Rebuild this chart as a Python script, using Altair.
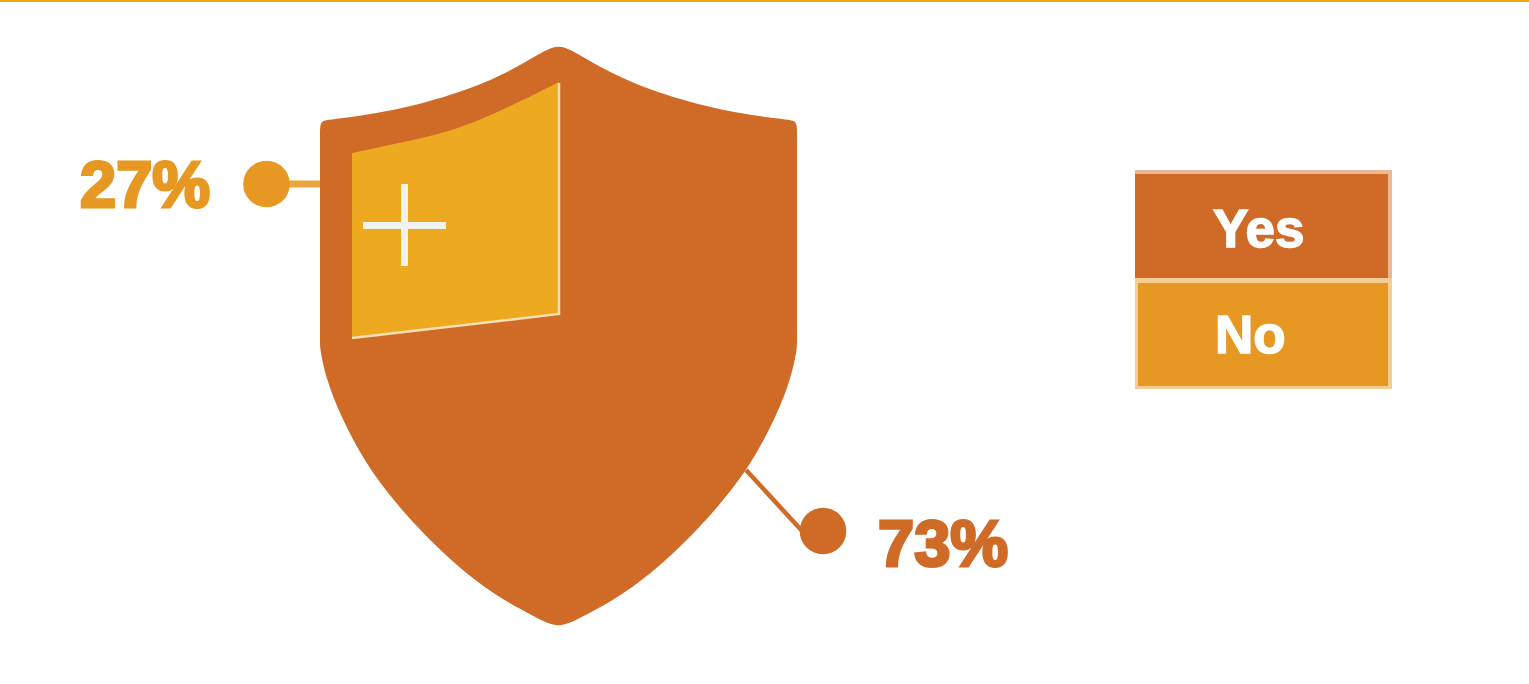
import altair as alt
import pandas as pd

CANVAS_W, CANVAS_H = 1529, 684

# Survey result
labels = ["Yes", "No"]
shares = [73, 27]

# Palette
ORANGE = "#d06a27"
AMBER = "#e69823"
GOLD = "#eda920"
RULE = "#eba90a"

# Shield: control points of the upper outline down to the shoulder line,
# then those of the curved lower outline (drawn as B-splines)
shoulder_y = 340
upper_x = [320, 320, 321, 335, 400, 470, 520, 545, 558.5, 572, 597, 647, 717, 782, 796, 797, 797]
upper_y = [136, 128, 120, 119.5, 110, 90, 66, 50, 45, 50, 66, 90, 110, 119.5, 120, 128, 136]
lower_x = [320, 320, 326, 340, 365, 398, 450, 497, 537, 558.5, 580, 620, 667, 719, 752, 777, 791, 797, 797]
lower_y = [340, 350, 378, 415, 463, 507, 561, 597, 618, 629, 618, 597, 561, 507, 463, 415, 378, 350, 340]

# Highlighted quarter of the shield
panel_x = [352, 400, 448, 482, 515, 559]
panel_top = [153, 143, 132, 119, 104, 82]
panel_bottom = [338, 332.5, 326.5, 323, 319, 314]

# Pale edge along the panel's right and lower sides
edge_x = [559, 559, 352]
edge_y = [83, 314, 338]

# Leader lines and their end dots
leader_no_x, leader_no_y = [267, 322], [184, 184]
leader_yes_x, leader_yes_y = [746, 804], [470, 533]
dots_x, dots_y = [266.5, 823], [184, 531]

# Percent labels
pct_x, pct_y = [80, 878], [207, 566]

# Legend boxes: outer frame and inner fill
frame_x = [1135, 1135]
frame_x2 = [1392, 1392]
frame_y = [170, 278]
frame_y2 = [278, 389]
fill_x = [1135, 1138]
fill_x2 = [1388, 1388]
fill_y = [174, 283]
fill_y2 = [278, 386]
legend_text_x = [1213, 1215]
legend_text_y = [247, 353]

x_scale = alt.Scale(domain=[0, CANVAS_W], range=[0, CANVAS_W])
y_scale = alt.Scale(domain=[0, CANVAS_H], range=[0, CANVAS_H])
X = alt.X("x:Q", scale=x_scale, axis=None)
Y = alt.Y("y:Q", scale=y_scale, axis=None)


def band(xs, ys, y2s, color):
    data = pd.DataFrame({"x": xs, "y": ys, "y2": y2s})
    return alt.Chart(data).mark_area(color=color, interpolate="basis").encode(X, Y, y2="y2:Q")


def box(xs, x2s, ys, y2s, colors):
    data = pd.DataFrame({"x": xs, "x2": x2s, "y": ys, "y2": y2s, "c": colors})
    return alt.Chart(data).mark_rect().encode(
        X, Y, x2="x2:Q", y2="y2:Q", color=alt.Color("c:N", scale=None)
    )


def path(xs, ys, color, width):
    data = pd.DataFrame({"x": xs, "y": ys, "o": range(len(xs))})
    return alt.Chart(data).mark_line(color=color, strokeWidth=width).encode(X, Y, order="o:Q")


top_rule = box([0], [CANVAS_W], [0], [2], [RULE])

shield_upper = band(upper_x, upper_y, [shoulder_y] * len(upper_x), ORANGE)
shield_lower = band(lower_x, [shoulder_y] * len(lower_x), lower_y, ORANGE)
panel = band(panel_x, panel_top, panel_bottom, GOLD)
edge = path(edge_x, edge_y, "#f8dfb4", 2.5)

plus = box([363, 401], [446, 408], [222, 184], [229, 266], ["#f2f3f1", "#f2f3f1"])

leader_no = path(leader_no_x, leader_no_y, "#e9a63f", 7)
leader_yes = path(leader_yes_x, leader_yes_y, ORANGE, 4.5)

dots = alt.Chart(pd.DataFrame({"x": dots_x, "y": dots_y, "c": [AMBER, ORANGE]})).mark_circle(
    size=2170, opacity=1
).encode(X, Y, color=alt.Color("c:N", scale=None))

pct = pd.DataFrame({
    "x": pct_x,
    "y": pct_y,
    "t": [f"{shares[1]}%", f"{shares[0]}%"],
    "c": [AMBER, ORANGE],
})
pct_text = alt.Chart(pct).mark_text(
    font="Liberation Sans", fontWeight="bold", fontSize=65, align="left",
    baseline="alphabetic", strokeWidth=3,
).encode(
    X, Y, text="t:N",
    color=alt.Color("c:N", scale=None),
    stroke=alt.Color("c:N", scale=None),
)

legend_frames = box(frame_x, frame_x2, frame_y, frame_y2, ["#e9b795", "#f3cd93"])
legend_fills = box(fill_x, fill_x2, fill_y, fill_y2, [ORANGE, AMBER])
legend_text = alt.Chart(
    pd.DataFrame({"x": legend_text_x, "y": legend_text_y, "t": labels})
).mark_text(
    font="Liberation Sans", fontWeight="bold", fontSize=53, align="left",
    baseline="alphabetic", color="#ffffff", stroke="#ffffff", strokeWidth=1.5,
).encode(X, Y, text="t:N")

chart = alt.layer(
    top_rule, leader_no, leader_yes, dots, shield_upper, shield_lower, panel, edge, plus,
    pct_text, legend_frames, legend_fills, legend_text,
).properties(
    width=CANVAS_W,
    height=CANVAS_H,
    padding=0,
    autosize=alt.AutoSizeParams(type="none"),
    background="#ffffff",
).configure_view(strokeWidth=0)

chart.save("out.html", embed_options={"renderer": "svg", "actions": False})
